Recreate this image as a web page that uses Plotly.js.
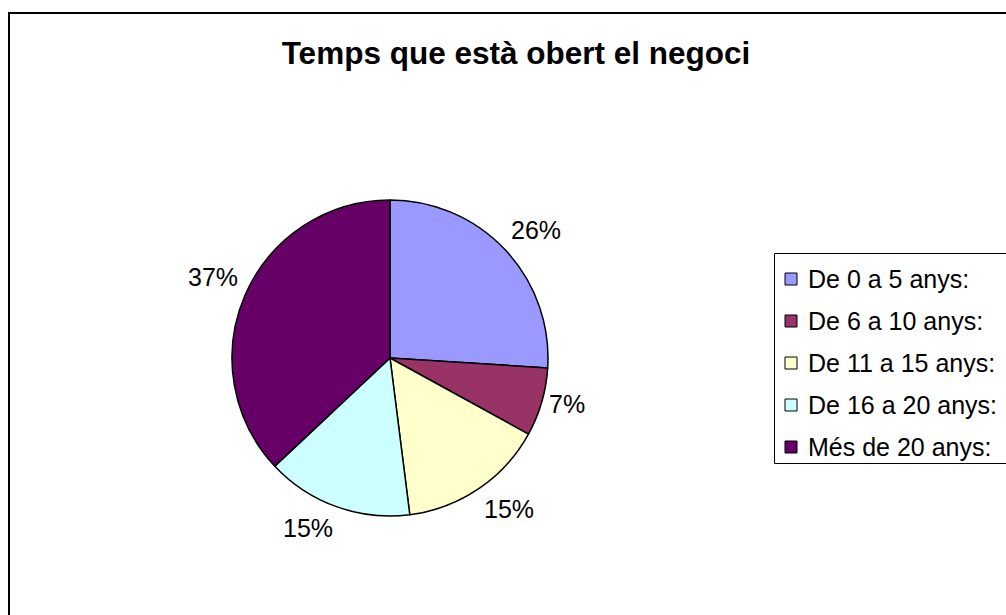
<!DOCTYPE html>
<html>
<head>
<meta charset="utf-8">
<script src="https://cdn.plot.ly/plotly-3.0.1.min.js"></script>
<style>html,body{margin:0;padding:0;background:#fff;}#chart{width:1006px;height:615px;}</style>
</head>
<body>
<div id="chart"></div>
<script>
const chartTitle = "Temps que està obert el negoci";
const labels = ["De 0 a 5 anys:", "De 6 a 10 anys:", "De 11 a 15 anys:", "De 16 a 20 anys:", "Més de 20 anys:"];
const values = [26, 7, 15, 15, 37];
const colors = ["#9999FF", "#993366", "#FFFFCC", "#CCFFFF", "#660066"];

const W = 1006, H = 615;
const px = x => x / W;
const py = y => 1 - y / H;
const font = "Arial, 'Liberation Sans', sans-serif";

// pie geometry (pixels)
const CX = 390, CY = 358, R = 158;
const labelSize = 25;

const trace = {
  type: "pie",
  labels: labels,
  values: values,
  sort: false,
  direction: "clockwise",
  rotation: 0,
  marker: {colors: colors, line: {color: "#000000", width: 1.5}},
  textinfo: "none",
  hoverinfo: "label+percent",
  domain: {x: [px(CX - R), px(CX + R)], y: [py(CY + R), py(CY - R)]},
  showlegend: false,
  automargin: false
};

const shapes = [
  {type: "rect", xref: "paper", yref: "paper", x0: px(9), y0: -0.05, x1: 1.05, y1: py(13),
   line: {color: "#000000", width: 2}, fillcolor: "rgba(0,0,0,0)"},
  {type: "rect", xref: "paper", yref: "paper", x0: px(774.5), y0: py(463.5), x1: 1.05, y1: py(253.5),
   line: {color: "#000000", width: 1}, fillcolor: "rgba(0,0,0,0)"}
];
const annotations = [];

// percentage labels outside each slice: anchored just beyond the rim at the mid-angle
const total = values.reduce((a, b) => a + b, 0);
let cum = 0;
const gap = 7;
values.forEach((v, i) => {
  const mid = (cum + v / 2) / total * 2 * Math.PI;
  cum += v;
  const ux = Math.sin(mid), uy = -Math.cos(mid);
  const ax = CX + ux * (R + gap), ay = CY + uy * (R + gap);
  const txt = Math.round(v / total * 100) + "%";
  const yanc = Math.abs(uy) < 0.3 ? "middle" : (uy >= 0 ? "top" : "bottom");
  annotations.push({xref: "paper", yref: "paper", x: px(ax), y: py(ay),
    xanchor: ux >= 0 ? "left" : "right", yanchor: yanc,
    showarrow: false, text: txt, borderpad: 0,
    font: {family: font, size: labelSize, color: "#000000"}});
});

// legend
const rowStart = 279, rowGap = 42;
labels.forEach((lab, i) => {
  const cy = rowStart + i * rowGap;
  shapes.push({type: "rect", xref: "paper", yref: "paper",
    x0: px(785), x1: px(797), y0: py(cy + 6), y1: py(cy - 6),
    fillcolor: colors[i], line: {color: "#000000", width: 1}});
  annotations.push({xref: "paper", yref: "paper", x: px(806), y: py(cy),
    xanchor: "left", yanchor: "middle", showarrow: false, text: lab,
    font: {family: font, size: 25, color: "#000000"}});
});

const layout = {
  width: W, height: H,
  margin: {l: 0, r: 0, t: 0, b: 0},
  paper_bgcolor: "#ffffff",
  showlegend: false,
  title: {text: "<b>" + chartTitle + "</b>", x: px(516), y: py(53), xanchor: "center", yanchor: "middle",
          xref: "paper", yref: "paper", font: {family: font, size: 31.5, color: "#000000"}},
  shapes: shapes,
  annotations: annotations
};

Plotly.newPlot("chart", [trace], layout, {displayModeBar: false, staticPlot: true});
</script>
</body>
</html>
